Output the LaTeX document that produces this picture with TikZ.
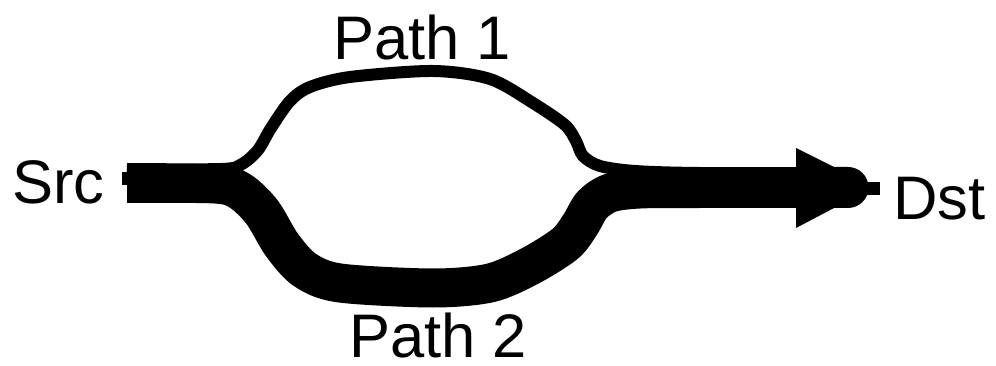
\documentclass[tikz,border=0pt]{standalone}
\usepackage{fontspec}
\setmainfont{Liberation Sans}
\begin{document}
\begin{tikzpicture}[x=1pt,y=-1pt,
  lbl/.style={anchor=base west,inner sep=0pt,font=\fontsize{61.5}{72}\selectfont},
  thinflow/.style={line width=12pt,line join=round},
  thickflow/.style={line width=39pt,line join=round},
  stub/.style={fill=black}]
\useasboundingbox (0,0) rectangle (996,366);
% labels
\node[lbl] (srclbl) at (12,204) {Src};
\node[lbl] (dstlbl) at (893,220) {Dst};
\node[lbl] (p1lbl) at (333,60) {Path 1};
\node[lbl] (p2lbl) at (349,357) {Path 2};
% endpoints
\coordinate (s1) at (127,169);
\coordinate (s2) at (127,183.5);
\coordinate (d1) at (848,173);
\coordinate (d2) at (848,188.5);
% path 2 (thick)
\draw[thickflow] plot[smooth,tension=0.5] coordinates {(s2) (215,184) (240,191) (262,212) (282,245) (305,270) (340,283) (433,288) (490,283) (530,266) (565,244) (580,225) (592,205) (610,193) (640,189) (700,188.5) (d2)};
% path 1 (thin)
\draw[thinflow] plot[smooth,tension=0.5] coordinates {(s1) (222,169) (242,164) (258,150) (271,128) (290,101) (310,87) (350,77) (433,71) (490,79) (533,103) (565,125) (576,141) (583,156) (600,166) (635,171) (700,173) (d1)};
% arrow head and end blob
\fill (796,148) -- (834,167) -- (834,208) -- (796,228) -- cycle;
\fill (820,167) -- (848,167) arc[start angle=-90,end angle=90,radius=20.5] -- (820,208) -- cycle;
% stubs
\fill[stub] (122,172) rectangle (130,185);
\fill[stub] (866,182) rectangle (880,195);
\end{tikzpicture}
\end{document}
